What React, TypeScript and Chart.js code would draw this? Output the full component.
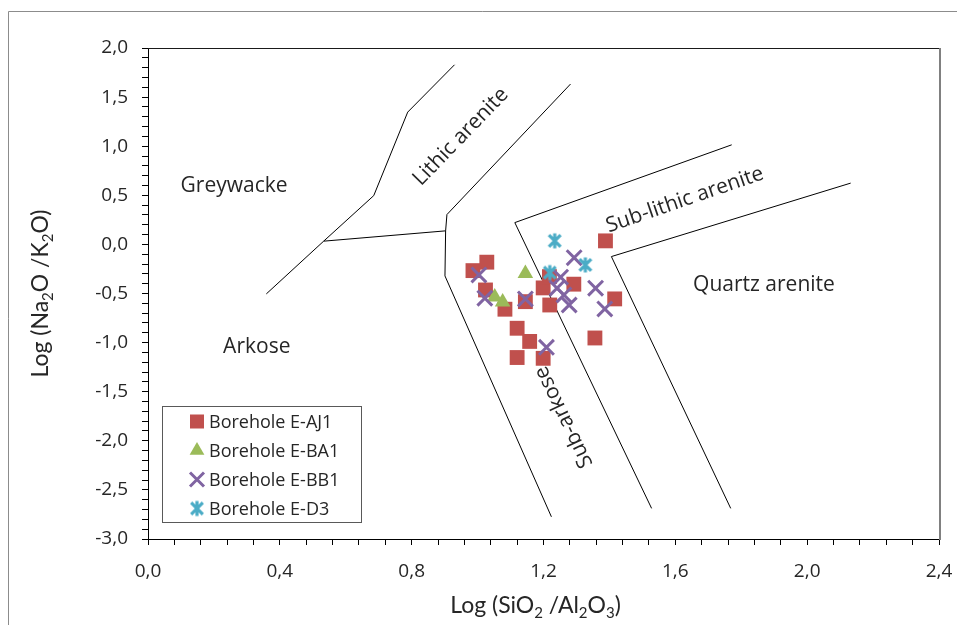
import React, { useEffect, useRef } from 'react';
import { Chart, registerables } from 'chart.js';

Chart.register(...registerables);

// ---------- data ----------
const seriesNames = ['Borehole E-AJ1', 'Borehole E-BA1', 'Borehole E-BB1', 'Borehole E-D3'];

const ajX = [0.986, 1.028, 1.024, 1.083, 1.145, 1.199, 1.219, 1.218, 1.292, 1.388, 1.416, 1.120, 1.158, 1.120, 1.199, 1.356];
const ajY = [-0.267, -0.181, -0.464, -0.660, -0.583, -0.443, -0.617, -0.328, -0.405, 0.036, -0.555, -0.854, -0.988, -1.152, -1.160, -0.953];

const baX = [1.145, 1.052, 1.076];
const baY = [-0.297, -0.535, -0.586];

const bbX = [1.004, 1.022, 1.145, 1.293, 1.252, 1.241, 1.262, 1.278, 1.358, 1.386, 1.209];
const bbY = [-0.311, -0.548, -0.555, -0.135, -0.334, -0.446, -0.515, -0.617, -0.446, -0.657, -1.048];

const d3X = [1.234, 1.327, 1.219];
const d3Y = [0.036, -0.209, -0.287];

// field boundaries (Herron 1988 diagram)
const lineAX = [0.359, 0.533, 0.685, 0.788, 0.930];
const lineAY = [-0.504, 0.033, 0.497, 1.347, 1.829];
const lineBX = [0.533, 0.903];
const lineBY = [0.033, 0.138];
const lineCX = [1.224, 0.901, 0.903, 0.907, 1.282];
const lineCY = [-2.774, -0.321, 0.138, 0.304, 1.633];
const lineDX = [1.528, 1.113, 1.771];
const lineDY = [-2.688, 0.222, 1.014];
const lineEX = [1.768, 1.406, 2.132];
const lineEY = [-2.688, -0.124, 0.624];

// field names
const fieldNames = ['Greywacke', 'Arkose', 'Lithic arenite', 'Sub-lithic arenite', 'Quartz arenite', 'Sub-arkose'];
const fieldX = [0.261, 0.330, 0.949, 1.629, 1.869, 1.262];
const fieldY = [0.596, -1.045, 1.096, 0.453, -0.413, -1.758];
const fieldAngle = [0, 0, -46, -19, 0, -115.5];

// axes
const xMin = 0, xMax = 2.4, xMinorStep = 0.08, xMajorStep = 0.4;
const yMin = -3, yMax = 2, yMinorStep = 0.1, yMajorStep = 0.5;
const xTitle = [{ t: 'Log (SiO' }, { t: '2', sub: true }, { t: ' /Al' }, { t: '2', sub: true }, { t: 'O' }, { t: '3', sub: true }, { t: ')' }];
const yTitle = [{ t: 'Log (Na' }, { t: '2', sub: true }, { t: 'O /K' }, { t: '2', sub: true }, { t: 'O)' }];

// ---------- styles ----------
const RED = '#C0504D';
const GREEN = '#9BBB59';
const PURPLE = '#8064A2';
const CYAN = '#4BACC6';
const TXT = '#262626';
const FONT = '"Open Sans", sans-serif';
const TFONT = 'Lato, "Open Sans", sans-serif';

const toPts = (xs: number[], ys: number[]) => xs.map((x, i) => ({ x, y: ys[i] }));
const isMajor = (v: number, step: number) => Math.abs(v / step - Math.round(v / step)) < 1e-6;
const fmt = (v: number) => (Math.abs(v) < 1e-9 ? 0 : v).toFixed(1).replace('.', ',');

function makeStar(color: string, size: number, lw: number) {
  const c = document.createElement('canvas');
  c.width = size; c.height = size;
  const g = c.getContext('2d')!;
  g.strokeStyle = color; g.lineWidth = lw; g.lineCap = 'butt';
  const m = size / 2, r = size / 2 - 1.5;
  const d = r * 0.78;
  g.beginPath();
  g.moveTo(m - d, m - d); g.lineTo(m + d, m + d);
  g.moveTo(m + d, m - d); g.lineTo(m - d, m + d);
  g.moveTo(m, m - r); g.lineTo(m, m + r);
  g.stroke();
  return c;
}

function drawMarker(ctx: CanvasRenderingContext2D, kind: number, x: number, y: number, star: HTMLCanvasElement) {
  ctx.save();
  if (kind === 0) {
    ctx.fillStyle = RED;
    ctx.fillRect(x - 7, y - 7, 14, 14);
  } else if (kind === 1) {
    const r = 8.5;
    ctx.fillStyle = GREEN;
    ctx.beginPath();
    ctx.moveTo(x, y - r);
    ctx.lineTo(x + r * 0.866, y + r * 0.5);
    ctx.lineTo(x - r * 0.866, y + r * 0.5);
    ctx.closePath();
    ctx.fill();
  } else if (kind === 2) {
    ctx.strokeStyle = PURPLE; ctx.lineWidth = 3;
    const d = 7;
    ctx.beginPath();
    ctx.moveTo(x - d, y - d); ctx.lineTo(x + d, y + d);
    ctx.moveTo(x + d, y - d); ctx.lineTo(x - d, y + d);
    ctx.stroke();
  } else {
    ctx.drawImage(star, x - star.width / 2, y - star.height / 2);
  }
  ctx.restore();
}

function drawRich(ctx: CanvasRenderingContext2D, segs: { t: string; sub?: boolean }[], cx: number, cy: number, rot: number, size: number, family: string) {
  ctx.save();
  ctx.translate(cx, cy);
  ctx.rotate(rot);
  const big = `${size}px ${family}`;
  const small = `${Math.round(size * 0.66)}px ${family}`;
  let w = 0;
  for (const s of segs) { ctx.font = s.sub ? small : big; w += ctx.measureText(s.t).width; }
  let xx = -w / 2;
  ctx.textAlign = 'left';
  ctx.textBaseline = 'alphabetic';
  ctx.fillStyle = TXT;
  const base = size * 0.36;
  for (const s of segs) {
    ctx.font = s.sub ? small : big;
    ctx.fillText(s.t, xx, s.sub ? base + size * 0.2 : base);
    xx += ctx.measureText(s.t).width;
  }
  ctx.restore();
}

export default function App() {
  const ref = useRef<HTMLCanvasElement>(null);

  useEffect(() => {
    const canvas = ref.current!;
    const star = makeStar(CYAN, 18, 3.2);

    const lineDs = (xs: number[], ys: number[]) => ({
      data: toPts(xs, ys),
      showLine: true,
      borderColor: '#000',
      borderWidth: 1,
      pointRadius: 0,
      pointHoverRadius: 0,
      fill: false,
      tension: 0,
      order: 10,
    });

    const decor = {
      id: 'decor',
      beforeDraw(chart: any) {
        const { ctx, width, height } = chart;
        ctx.save();
        ctx.fillStyle = '#fff';
        ctx.fillRect(0, 0, width, height);
        ctx.strokeStyle = '#8c8c8c';
        ctx.lineWidth = 1;
        ctx.beginPath();
        ctx.moveTo(0.5, height);
        ctx.lineTo(0.5, 3.5);
        ctx.lineTo(width, 3.5);
        ctx.stroke();
        ctx.restore();
      },
      afterDraw(chart: any) {
        const { ctx, chartArea: a, scales } = chart;
        const sx = scales.x, sy = scales.y;
        ctx.save();
        // plot area top & right border
        ctx.strokeStyle = '#1a1a1a';
        ctx.lineWidth = 1;
        ctx.beginPath();
        ctx.moveTo(a.left, a.top + 0.5);
        ctx.lineTo(a.right + 1, a.top + 0.5);
        ctx.stroke();
        ctx.strokeStyle = '#808080';
        ctx.lineWidth = 2;
        ctx.beginPath();
        ctx.moveTo(a.right + 1, a.top);
        ctx.lineTo(a.right + 1, a.bottom + 1);
        ctx.stroke();

        // field names
        ctx.fillStyle = TXT;
        ctx.font = `21px ${FONT}`;
        ctx.textAlign = 'center';
        ctx.textBaseline = 'middle';
        fieldNames.forEach((n, i) => {
          ctx.save();
          ctx.translate(sx.getPixelForValue(fieldX[i]), sy.getPixelForValue(fieldY[i]));
          ctx.rotate((fieldAngle[i] * Math.PI) / 180);
          ctx.fillText(n, 0, 0);
          ctx.restore();
        });

        // legend
        const lx = 154.5, ly = 398.5, lw = 199, lh = 116;
        ctx.fillStyle = '#fff';
        ctx.fillRect(lx, ly, lw, lh);
        ctx.strokeStyle = '#595959';
        ctx.lineWidth = 1;
        ctx.strokeRect(lx, ly, lw, lh);
        ctx.font = `18px ${FONT}`;
        ctx.textAlign = 'left';
        ctx.textBaseline = 'middle';
        seriesNames.forEach((n, i) => {
          const yy = 413.5 + i * 29;
          drawMarker(ctx, i, 189, yy, star);
          ctx.fillStyle = TXT;
          ctx.fillText(n, 201, yy + 1);
        });

        // axis titles
        drawRich(ctx, xTitle, (a.left + a.right) / 2 - 8, 597, 0, 23, TFONT);
        drawRich(ctx, yTitle, 32, (a.top + a.bottom) / 2, -Math.PI / 2, 23, TFONT);
        ctx.restore();
      },
    };

    const chart = new Chart(canvas, {
      type: 'scatter',
      data: {
        datasets: [
          {
            label: seriesNames[0], data: toPts(ajX, ajY), pointStyle: 'rect', pointRadius: 10.5,
            backgroundColor: RED, borderColor: RED, borderWidth: 0, order: 4,
          },
          {
            label: seriesNames[1], data: toPts(baX, baY), pointStyle: 'triangle', pointRadius: 9,
            backgroundColor: GREEN, borderColor: GREEN, borderWidth: 0, order: 3,
          },
          {
            label: seriesNames[2], data: toPts(bbX, bbY), pointStyle: 'crossRot', pointRadius: 10.5,
            backgroundColor: PURPLE, borderColor: PURPLE, borderWidth: 3, order: 2,
          },
          {
            label: seriesNames[3], data: toPts(d3X, d3Y), pointStyle: star as any, pointRadius: 9,
            backgroundColor: CYAN, borderColor: CYAN, borderWidth: 0, order: 1,
          },
          lineDs(lineAX, lineAY) as any,
          lineDs(lineBX, lineBY) as any,
          lineDs(lineCX, lineCY) as any,
          lineDs(lineDX, lineDY) as any,
          lineDs(lineEX, lineEY) as any,
        ],
      },
      options: {
        responsive: false,
        animation: false,
        devicePixelRatio: 1,
        layout: { autoPadding: false, padding: { top: 40, right: 18, left: 0, bottom: 0 } },
        plugins: { legend: { display: false }, tooltip: { enabled: false }, title: { display: false } },
        events: [],
        scales: {
          x: {
            type: 'linear',
            min: xMin,
            max: xMax,
            afterFit: (s: any) => { s.height = 86; s.paddingLeft = 0; s.paddingRight = 0; },
            ticks: {
              stepSize: xMinorStep,
              autoSkip: false,
              maxRotation: 0,
              minRotation: 0,
              padding: 15,
              color: TXT,
              font: { family: FONT, size: 19 },
              callback: (v: any) => (isMajor(Number(v), xMajorStep) ? fmt(Number(v)) : ''),
            },
            grid: { drawOnChartArea: false, drawTicks: true, tickLength: 6, color: '#000' },
            border: { color: '#000', width: 1 },
          },
          y: {
            type: 'linear',
            min: yMin,
            max: yMax,
            afterFit: (s: any) => { s.width = 140; s.paddingTop = 0; s.paddingBottom = 0; },
            ticks: {
              stepSize: yMinorStep,
              autoSkip: false,
              padding: 14,
              color: TXT,
              font: { family: FONT, size: 19 },
              callback: (v: any) => (isMajor(Number(v), yMajorStep) ? fmt(Number(v)) : ''),
            },
            grid: { drawOnChartArea: false, drawTicks: true, tickLength: 6, color: '#000' },
            border: { color: '#000', width: 1 },
          },
        },
      },
      plugins: [decor],
    } as any);

    return () => chart.destroy();
  }, []);

  return <canvas ref={ref} width={949} height={617} style={{ display: 'block' }} />;
}
